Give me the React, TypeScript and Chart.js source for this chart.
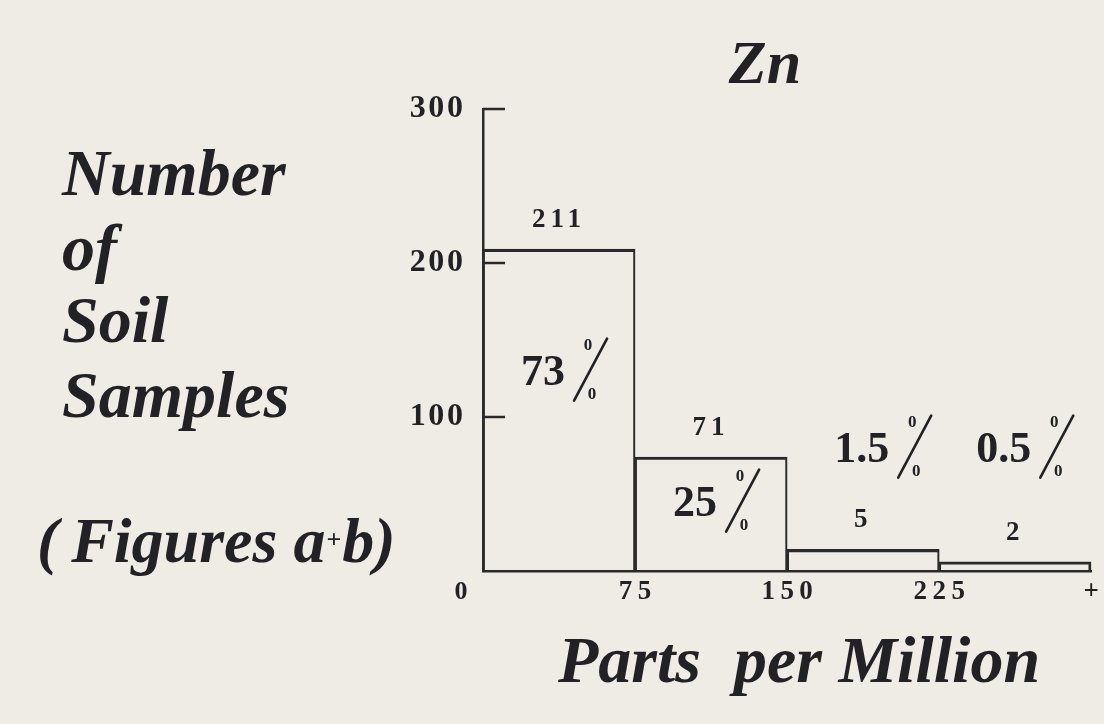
import React, { useEffect, useRef } from "react";
import { Chart, registerables } from "chart.js";

Chart.register(...registerables);

// ---- data ----
const binEdges = [0, 75, 150, 225, 300];
const binCenters = [37.5, 112.5, 187.5, 262.5];
const barHeights = [209, 74, 14, 6]; // drawn bar heights
const countLabels = ["211", "71", "5", "2"];
const percentLabels = ["73", "25", "1.5", "0.5"];
const xTickLabels = ["0", "75", "150", "225", "+"];
const yTickValues = [0, 100, 200, 300];
const yTitleLines = ["Number", "of", "Soil", "Samples"];
const chartTitle = "Zn";
const xTitle = "Parts  per Million";

// annotation placement (offset from bar centre in px, baseline in data units)
const pctPlacement = [
  { dx: 6, yVal: 121 },
  { dx: 6, yVal: 36 },
  { dx: 26, yVal: 71 },
  { dx: 16, yVal: 71 },
];

const BG = "#efece6";
const INK = "#222226";
const LINE = "#2a2a2a";
const SERIF = '"Liberation Serif", "Times New Roman", serif';

const spaced = (s: string, sep: string) => s.split("").join(sep);

function drawPct(ctx: CanvasRenderingContext2D, num: string, rightX: number, baseY: number) {
  ctx.fillStyle = INK;
  ctx.font = `bold 44px ${SERIF}`;
  ctx.textAlign = "right";
  ctx.textBaseline = "alphabetic";
  ctx.fillText(num, rightX, baseY);
  // slash of the per-cent sign
  ctx.strokeStyle = INK;
  ctx.lineWidth = 2.6;
  ctx.lineCap = "round";
  ctx.beginPath();
  ctx.moveTo(rightX + 9, baseY + 16);
  ctx.lineTo(rightX + 42, baseY - 46);
  ctx.stroke();
  ctx.font = `bold 17px ${SERIF}`;
  ctx.textAlign = "center";
  ctx.textBaseline = "middle";
  ctx.fillText("0", rightX + 23, baseY - 39);
  ctx.fillText("0", rightX + 27, baseY + 10);
}

export default function App() {
  const ref = useRef<HTMLCanvasElement>(null);

  useEffect(() => {
    const canvas = ref.current;
    if (!canvas) return;

    const overlay = {
      id: "overlay",
      beforeDraw(chart: any) {
        const c = chart.ctx;
        c.save();
        c.fillStyle = BG;
        c.fillRect(0, 0, chart.width, chart.height);
        c.restore();
      },
      afterDraw(chart: any) {
        const ctx: CanvasRenderingContext2D = chart.ctx;
        const xs = chart.scales.x;
        const ys = chart.scales.y;
        const meta = chart.getDatasetMeta(0);
        ctx.save();

        // inner tick marks on y axis
        ctx.strokeStyle = LINE;
        ctx.lineWidth = 2.5;
        yTickValues.forEach((v) => {
          if (v === 0) return;
          const py = ys.getPixelForValue(v);
          ctx.beginPath();
          ctx.moveTo(xs.left, py);
          ctx.lineTo(xs.left + 22, py);
          ctx.stroke();
        });

        // origin label "0"
        ctx.fillStyle = INK;
        ctx.font = `bold 26px ${SERIF}`;
        ctx.textAlign = "center";
        ctx.textBaseline = "middle";
        ctx.fillText(xTickLabels[0], xs.getPixelForValue(binEdges[0]) - 22, ys.bottom + 21);

        // count labels above bars
        ctx.font = `bold 27px ${SERIF}`;
        ctx.textAlign = "center";
        ctx.textBaseline = "alphabetic";
        (ctx as any).letterSpacing = "5px";
        meta.data.forEach((bar: any, i: number) => {
          ctx.fillText(countLabels[i], bar.x, bar.y - 22);
        });
        (ctx as any).letterSpacing = "0px";

        // percentage annotations
        meta.data.forEach((bar: any, i: number) => {
          const p = pctPlacement[i];
          drawPct(ctx, percentLabels[i], bar.x + p.dx, ys.getPixelForValue(p.yVal));
        });

        // titles
        ctx.fillStyle = INK;
        ctx.font = `italic bold 62px ${SERIF}`;
        ctx.textAlign = "center";
        ctx.textBaseline = "alphabetic";
        ctx.fillText(chartTitle, 765, 83);

        ctx.font = `italic bold 66px ${SERIF}`;
        ctx.fillText(xTitle, 799, 682);

        ctx.textAlign = "left";
        const baselines = [195, 270, 342, 417];
        yTitleLines.forEach((t, i) => ctx.fillText(t, 62, baselines[i]));

        // (Figures a+b)
        ctx.font = `italic bold 64px ${SERIF}`;
        let x = 37;
        const part1 = "(\u2009Figures a";
        ctx.fillText(part1, x, 562);
        x += ctx.measureText(part1).width + 1;
        ctx.font = `bold 26px ${SERIF}`;
        ctx.fillText("+", x, 548);
        x += ctx.measureText("+").width + 1;
        ctx.font = `italic bold 64px ${SERIF}`;
        ctx.fillText("b)", x, 562);

        ctx.restore();
      },
    };

    const chart = new Chart(canvas, {
      type: "bar",
      data: {
        datasets: [
          {
            data: binCenters.map((x, i) => ({ x, y: barHeights[i] })),
            backgroundColor: "rgba(0,0,0,0)",
            borderColor: LINE,
            borderWidth: (c: any) => ({
              top: 2.5,
              left: 1.5,
              right: c.dataIndex === barHeights.length - 1 ? 2.5 : 1.5,
              bottom: 0,
            }),
            borderSkipped: "start",
            barPercentage: 1,
            categoryPercentage: 1,
          } as any,
        ],
      },
      options: {
        responsive: false,
        animation: false,
        events: [],
        layout: { padding: { top: 109, right: 12, left: 0, bottom: 0 } },
        plugins: {
          legend: { display: false },
          tooltip: { enabled: false },
          title: { display: false },
        },
        scales: {
          x: {
            type: "linear",
            offset: false,
            min: binEdges[0],
            max: binEdges[binEdges.length - 1],
            grid: { display: false, drawTicks: false, offset: false },
            border: { display: true, color: LINE, width: 2.5 },
            afterFit: (s: any) => {
              s.height = 153;
            },
            ticks: {
              stepSize: 75,
              maxRotation: 0,
              autoSkip: false,
              padding: 5,
              color: INK,
              font: { family: SERIF, size: 27, weight: "bold" },
              callback: (v: any) => {
                const i = binEdges.indexOf(Number(v));
                return i <= 0 ? "" : spaced(xTickLabels[i], "\u2009");
              },
            },
          },
          y: {
            type: "linear",
            min: 0,
            max: 300,
            grid: { display: false, drawTicks: false },
            border: { display: true, color: LINE, width: 2.5 },
            afterFit: (s: any) => {
              s.width = 483;
            },
            ticks: {
              stepSize: 100,
              padding: 20,
              color: INK,
              font: { family: SERIF, size: 32, weight: "bold" },
              callback: (v: any) => (Number(v) === 0 ? "" : spaced(String(v), "\u200A")),
            },
          },
        },
      } as any,
      plugins: [overlay],
    });

    return () => chart.destroy();
  }, []);

  return (
    <div
      style={{
        position: "fixed",
        left: 0,
        top: 0,
        width: 1104,
        height: 724,
        background: BG,
      }}
    >
      <canvas ref={ref} width={1104} height={724} style={{ display: "block" }} />
    </div>
  );
}
